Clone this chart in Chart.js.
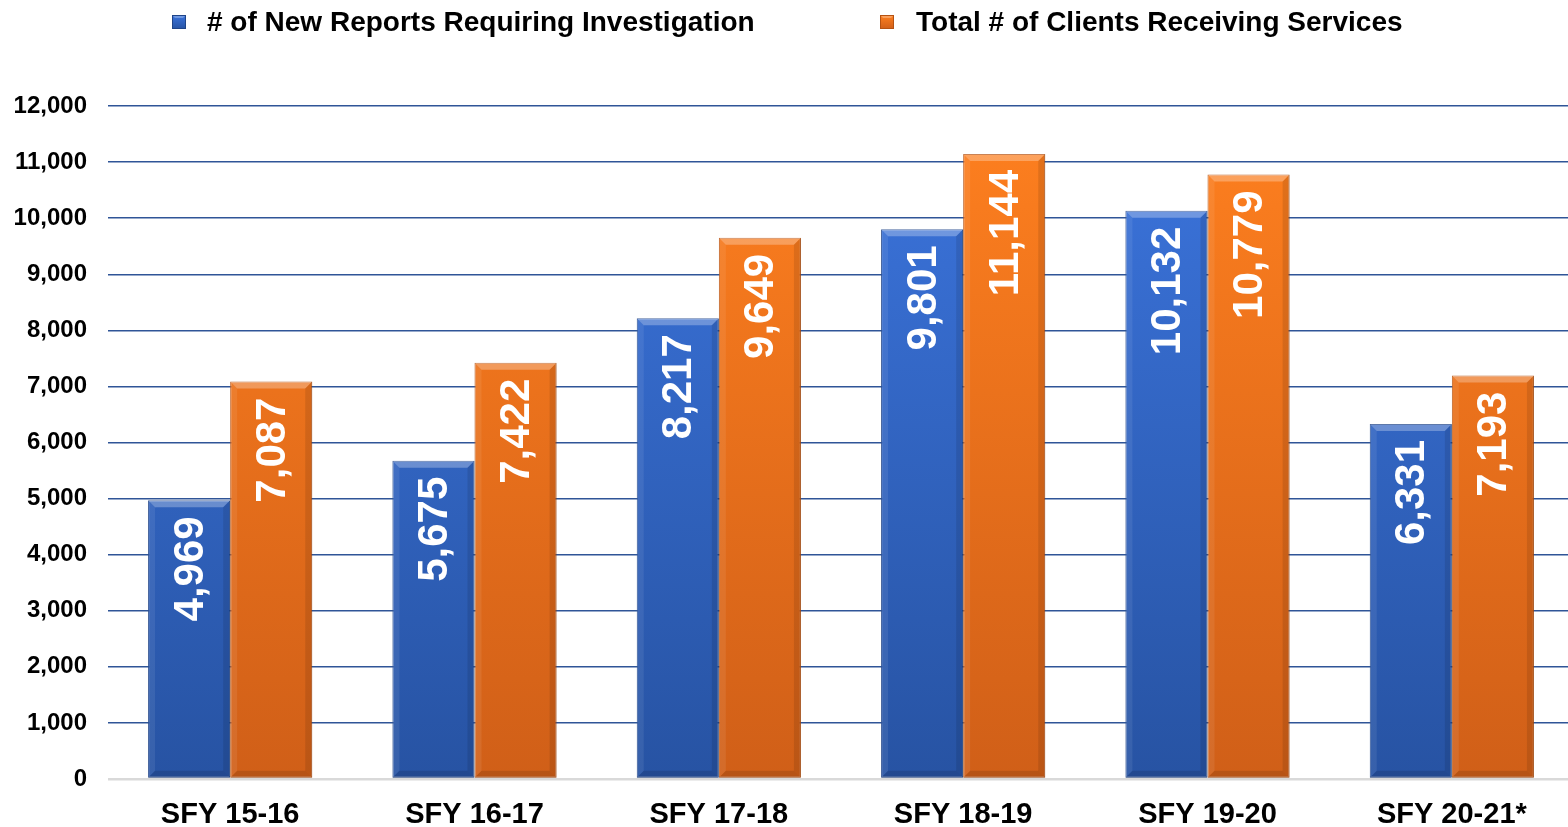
<!DOCTYPE html>
<html>
<head>
<meta charset="utf-8">
<script src="https://cdn.jsdelivr.net/npm/chart.js@4/dist/chart.umd.min.js"></script>
<style>
  html, body { margin: 0; padding: 0; background: #ffffff; overflow: hidden; }
  #wrap { width: 1568px; height: 827px; overflow: hidden; }
</style>
</head>
<body>
<div id="wrap"><canvas id="c" width="1574" height="827"></canvas></div>
<script>
const categories = ['SFY 15-16', 'SFY 16-17', 'SFY 17-18', 'SFY 18-19', 'SFY 19-20', 'SFY 20-21*'];
const seriesNames = ['# of New Reports Requiring Investigation', 'Total # of Clients Receiving Services'];
const newReports = [4969, 5675, 8217, 9801, 10132, 6331];
const clientsServed = [7087, 7422, 9649, 11144, 10779, 7193];
const yTicks = [0, 1000, 2000, 3000, 4000, 5000, 6000, 7000, 8000, 9000, 10000, 11000, 12000];

const FONT = "'Liberation Sans', Arial, 'DejaVu Sans', sans-serif";
const palette = {
  blue:   { top: '#3C75DE', bottom: '#2753A3', edge: '#1F4488', light: 'rgba(255,255,255,0.28)' },
  orange: { top: '#FF801F', bottom: '#D05F18', edge: '#B55212', light: 'rgba(255,255,255,0.28)' }
};

function makeGradient(chart, c) {
  const area = chart.chartArea;
  if (!area) return c.top;
  const g = chart.ctx.createLinearGradient(0, area.top, 0, area.bottom);
  g.addColorStop(0, c.top);
  g.addColorStop(1, c.bottom);
  return g;
}

const bevelPlugin = {
  id: 'bevel',
  afterDatasetsDraw(chart) {
    const ctx = chart.ctx;
    const cols = [palette.blue, palette.orange];
    chart.data.datasets.forEach((ds, di) => {
      const meta = chart.getDatasetMeta(di);
      meta.data.forEach(el => {
        const half = el.width / 2;
        const l = el.x - half, r = el.x + half, t = el.y, b = el.base;
        const bw = 7;
        ctx.save();
        ctx.fillStyle = cols[di].light;
        ctx.beginPath();
        ctx.moveTo(l, t); ctx.lineTo(r, t); ctx.lineTo(r - bw, t + bw); ctx.lineTo(l + bw, t + bw); ctx.closePath();
        ctx.fill();
        ctx.fillStyle = 'rgba(0,0,0,0.10)';
        ctx.beginPath();
        ctx.moveTo(r, t); ctx.lineTo(r, b); ctx.lineTo(r - bw, b - bw); ctx.lineTo(r - bw, t + bw); ctx.closePath();
        ctx.fill();
        ctx.fillStyle = 'rgba(255,255,255,0.08)';
        ctx.beginPath();
        ctx.moveTo(l, t); ctx.lineTo(l, b); ctx.lineTo(l + bw, b - bw); ctx.lineTo(l + bw, t + bw); ctx.closePath();
        ctx.fill();
        ctx.fillStyle = 'rgba(0,0,0,0.12)';
        ctx.beginPath();
        ctx.moveTo(l, b); ctx.lineTo(r, b); ctx.lineTo(r - bw, b - bw); ctx.lineTo(l + bw, b - bw); ctx.closePath();
        ctx.fill();
        ctx.restore();
      });
    });
  }
};

const labelPlugin = {
  id: 'rotLabels',
  afterDatasetsDraw(chart) {
    const ctx = chart.ctx;
    chart.data.datasets.forEach((ds, di) => {
      const meta = chart.getDatasetMeta(di);
      meta.data.forEach((el, i) => {
        const v = ds.data[i];
        ctx.save();
        ctx.translate(el.x, el.y + 16);
        ctx.rotate(-Math.PI / 2);
        ctx.font = 'bold 42px ' + FONT;
        ctx.fillStyle = '#ffffff';
        ctx.textAlign = 'right';
        ctx.textBaseline = 'middle';
        ctx.fillText(v.toLocaleString('en-US'), 0, 2);
        ctx.restore();
      });
    });
  }
};

const legendPlugin = {
  id: 'topLegend',
  afterDraw(chart) {
    const ctx = chart.ctx;
    const cols = [palette.blue, palette.orange];
    const boxX = [172, 880];
    const textX = [207, 916];
    seriesNames.forEach((name, i) => {
      const x = boxX[i], y = 15, s = 14;
      ctx.save();
      const g = ctx.createLinearGradient(0, y, 0, y + s);
      g.addColorStop(0, cols[i].top);
      g.addColorStop(1, cols[i].bottom);
      ctx.fillStyle = g;
      ctx.fillRect(x, y, s, s);
      ctx.fillStyle = cols[i].light;
      ctx.beginPath();
      ctx.moveTo(x, y); ctx.lineTo(x + s, y); ctx.lineTo(x + s - 3, y + 3); ctx.lineTo(x + 3, y + 3); ctx.closePath();
      ctx.fill();
      ctx.strokeStyle = cols[i].edge;
      ctx.lineWidth = 1;
      ctx.strokeRect(x + 0.5, y + 0.5, s - 1, s - 1);
      ctx.font = 'bold 28px ' + FONT;
      ctx.fillStyle = '#000000';
      ctx.textAlign = 'left';
      ctx.textBaseline = 'middle';
      ctx.fillText(name, textX[i], y + s / 2 + 1);
      ctx.restore();
    });
  }
};

new Chart(document.getElementById('c'), {
  type: 'bar',
  data: {
    labels: categories,
    datasets: [
      {
        label: seriesNames[0],
        data: newReports,
        backgroundColor: (c) => makeGradient(c.chart, palette.blue),
        borderColor: palette.blue.edge,
        borderWidth: 1,
        borderSkipped: false,
        categoryPercentage: 0.672,
        barPercentage: 1.0
      },
      {
        label: seriesNames[1],
        data: clientsServed,
        backgroundColor: (c) => makeGradient(c.chart, palette.orange),
        borderColor: palette.orange.edge,
        borderWidth: 1,
        borderSkipped: false,
        categoryPercentage: 0.672,
        barPercentage: 1.0
      }
    ]
  },
  options: {
    responsive: false,
    animation: false,
    devicePixelRatio: 1,
    layout: { padding: { top: 106, right: 0, left: 0, bottom: 0 } },
    plugins: {
      legend: { display: false },
      tooltip: { enabled: false },
      title: { display: false }
    },
    scales: {
      x: {
        grid: { display: false },
        border: { display: false },
        ticks: {
          color: '#000000',
          font: { family: FONT, size: 29, weight: 'bold' },
          padding: 11,
          maxRotation: 0
        },
        afterFit(scale) { scale.height = 48; }
      },
      y: {
        min: 0,
        max: 12000,
        afterBuildTicks(scale) { scale.ticks = yTicks.map(v => ({ value: v })); },
        border: { display: false },
        grid: {
          drawTicks: false,
          color: (c) => c.tick && c.tick.value === 0 ? '#D9D9D9' : '#2F5597',
          lineWidth: (c) => c.tick && c.tick.value === 0 ? 2.5 : 1.5
        },
        ticks: {
          color: '#000000',
          font: { family: FONT, size: 24, weight: 'bold' },
          padding: 21,
          callback: (v) => Number(v).toLocaleString('en-US')
        },
        afterFit(scale) { scale.width = 108; }
      }
    }
  },
  plugins: [bevelPlugin, labelPlugin, legendPlugin]
});
</script>
</body>
</html>
